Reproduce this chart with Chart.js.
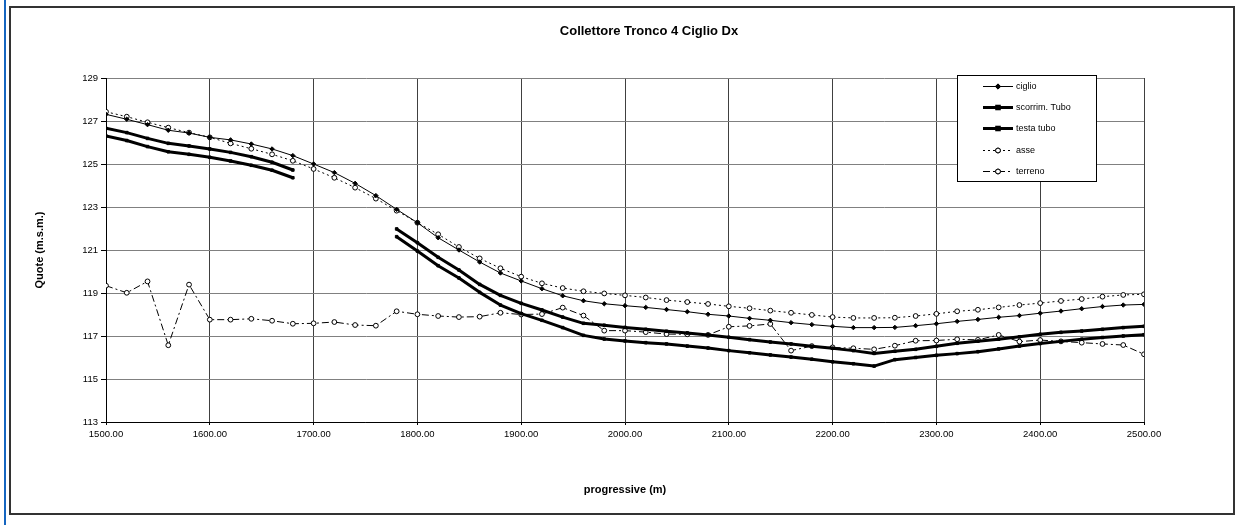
<!DOCTYPE html>
<html lang="it">
<head>
<meta charset="utf-8">
<title>Collettore Tronco 4 Ciglio Dx</title>
<script src="https://cdn.jsdelivr.net/npm/chart.js@4.4.1/dist/chart.umd.min.js"></script>
<style>
  html, body { margin: 0; padding: 0; background: #fff; }
  canvas { display: block; }
</style>
</head>
<body>
<canvas id="profilo" width="1248" height="525"></canvas>
<script>
// Progressive distances along the sewer (m)
const progressive = [
  1500, 1520, 1540, 1560, 1580, 1600, 1620, 1640, 1660, 1680,
  1700, 1720, 1740, 1760, 1780, 1800, 1820, 1840, 1860, 1880,
  1900, 1920, 1940, 1960, 1980, 2000, 2020, 2040, 2060, 2080,
  2100, 2120, 2140, 2160, 2180, 2200, 2220, 2240, 2260, 2280,
  2300, 2320, 2340, 2360, 2380, 2400, 2420, 2440, 2460, 2480,
  2500
];

// Elevations (m s.l.m.)
const ciglio = [
  127.31, 127.08, 126.83, 126.57, 126.44, 126.24, 126.12, 125.93, 125.70, 125.39,
  125.00, 124.60, 124.10, 123.53, 122.89, 122.27, 121.57, 121.00, 120.44, 119.93,
  119.56, 119.20, 118.87, 118.64, 118.50, 118.41, 118.33, 118.23, 118.13, 118.01,
  117.93, 117.82, 117.73, 117.62, 117.53, 117.45, 117.39, 117.39, 117.40, 117.48,
  117.57, 117.68, 117.77, 117.87, 117.95, 118.06, 118.16, 118.27, 118.37, 118.44,
  118.47
];

const scorrimTubo = [
  126.30, 126.09, 125.81, 125.57, 125.45, 125.31, 125.14, 124.94, 124.71, 124.36,
  null, null, null, null, 121.62, 120.95, 120.27, 119.70, 119.03, 118.44,
  118.04, 117.73, 117.39, 117.03, 116.86, 116.77, 116.69, 116.63, 116.53, 116.44,
  116.32, 116.22, 116.12, 116.02, 115.92, 115.80, 115.71, 115.60, 115.90, 116.00,
  116.10, 116.18, 116.27, 116.40, 116.53, 116.65, 116.75, 116.85, 116.93, 117.00,
  117.06
];

const testaTubo = [
  126.66, 126.46, 126.19, 125.96, 125.84, 125.70, 125.54, 125.34, 125.08, 124.72,
  null, null, null, null, 121.98, 121.34, 120.66, 120.07, 119.40, 118.89,
  118.52, 118.21, 117.88, 117.59, 117.50, 117.40, 117.31, 117.22, 117.14, 117.05,
  116.94, 116.83, 116.72, 116.63, 116.52, 116.43, 116.32, 116.19, 116.29, 116.38,
  116.52, 116.66, 116.76, 116.85, 116.96, 117.08, 117.17, 117.23, 117.31, 117.39,
  117.45
];

const asse = [
  127.43, 127.20, 126.94, 126.69, 126.46, 126.24, 125.96, 125.71, 125.45, 125.15,
  124.77, 124.36, 123.90, 123.39, 122.83, 122.27, 121.73, 121.14, 120.61, 120.15,
  119.76, 119.45, 119.23, 119.08, 118.98, 118.89, 118.79, 118.67, 118.58, 118.49,
  118.38, 118.29, 118.18, 118.08, 117.98, 117.88, 117.84, 117.84, 117.85, 117.93,
  118.03, 118.15, 118.22, 118.33, 118.44, 118.53, 118.63, 118.72, 118.83, 118.91,
  118.94
];

const terreno = [
  119.34, 119.01, 119.54, 116.57, 119.39, 117.76, 117.76, 117.80, 117.71, 117.57,
  117.59, 117.65, 117.51, 117.48, 118.15, 118.01, 117.93, 117.88, 117.90, 118.08,
  118.00, 118.02, 118.32, 117.95, 117.25, 117.25, 117.18, 117.09, 117.08, 117.05,
  117.43, 117.47, 117.56, 116.32, 116.53, 116.47, 116.43, 116.38, 116.55, 116.78,
  116.79, 116.85, 116.82, 117.05, 116.74, 116.81, 116.75, 116.69, 116.63, 116.58,
  116.15
];

const titolo = 'Collettore Tronco 4 Ciglio Dx';
const titoloX = 'progressive (m)';
const titoloY = 'Quote (m.s.m.)';
const yTicks = { min: 113, max: 129, step: 2 };
const xTicks = { min: 1500, max: 2500, step: 100 };

const FONT = '"Liberation Sans", Arial, Helvetica, sans-serif';

const punti = serie => progressive.map((x, i) => ({ x: x, y: serie[i] }));

const datasets = [
  {
    label: 'ciglio', data: punti(ciglio),
    borderColor: '#000', borderWidth: 1,
    pointStyle: 'rectRot', pointRadius: 2.2, pointBackgroundColor: '#000', pointBorderColor: '#000', pointBorderWidth: 1
  },
  {
    label: 'scorrim. Tubo', data: punti(scorrimTubo),
    borderColor: '#000', borderWidth: 3,
    pointStyle: 'rect', pointRadius: 1.8, pointBackgroundColor: '#000', pointBorderColor: '#000', pointBorderWidth: 1
  },
  {
    label: 'testa tubo', data: punti(testaTubo),
    borderColor: '#000', borderWidth: 3,
    pointStyle: 'rect', pointRadius: 1.8, pointBackgroundColor: '#000', pointBorderColor: '#000', pointBorderWidth: 1
  },
  {
    label: 'asse', data: punti(asse),
    borderColor: '#000', borderWidth: 1, borderDash: [2, 3],
    pointStyle: 'circle', pointRadius: 2.4, pointBackgroundColor: '#fff', pointBorderColor: '#000', pointBorderWidth: 1
  },
  {
    label: 'terreno', data: punti(terreno),
    borderColor: '#000', borderWidth: 1, borderDash: [7, 3, 2, 3],
    pointStyle: 'circle', pointRadius: 2.4, pointBackgroundColor: '#fff', pointBorderColor: '#000', pointBorderWidth: 1
  }
];

// Sheet frame, title and the boxed legend inside the plot
const foglio = {
  id: 'foglio',
  beforeDraw(chart) {
    const ctx = chart.ctx;
    ctx.save();
    ctx.fillStyle = '#fff';
    ctx.fillRect(0, 0, chart.width, chart.height);
    // blue margin line on the left edge
    ctx.fillStyle = '#1565c0';
    ctx.fillRect(4, 0, 2, chart.height);
    // outer frame
    ctx.strokeStyle = '#333';
    ctx.lineWidth = 2;
    ctx.strokeRect(10, 7, 1224, 507);
    // title
    ctx.fillStyle = '#000';
    ctx.font = 'bold 13px ' + FONT;
    ctx.textAlign = 'center';
    ctx.textBaseline = 'middle';
    ctx.fillText(titolo, 649, 31);
    ctx.restore();
  },
  afterDraw(chart) {
    const ctx = chart.ctx;
    const bx = 957, by = 75, bw = 139, bh = 106;
    ctx.save();
    ctx.fillStyle = '#fff';
    ctx.fillRect(bx, by, bw, bh);
    ctx.strokeStyle = '#000';
    ctx.lineWidth = 1;
    ctx.strokeRect(bx + 0.5, by + 0.5, bw, bh);
    ctx.font = '9px ' + FONT;
    ctx.textAlign = 'left';
    ctx.textBaseline = 'middle';
    chart.data.datasets.forEach((ds, i) => {
      const y = Math.round(by + 11 + i * 21.2) + 0.5;
      const x0 = 983, x1 = 1013, xm = 998;
      ctx.strokeStyle = ds.borderColor;
      ctx.lineWidth = ds.borderWidth;
      ctx.setLineDash(ds.borderDash || []);
      ctx.beginPath();
      ctx.moveTo(x0, y);
      ctx.lineTo(x1, y);
      ctx.stroke();
      ctx.setLineDash([]);
      Chart.helpers.drawPoint(ctx, {
        pointStyle: ds.pointStyle, radius: ds.pointRadius, borderWidth: ds.pointBorderWidth, rotation: 0
      }, xm, y);
      ctx.fillStyle = ds.pointBackgroundColor;
      ctx.strokeStyle = ds.pointBorderColor;
      ctx.lineWidth = ds.pointBorderWidth;
      ctx.beginPath();
      if (ds.pointStyle === 'circle') {
        ctx.arc(xm, y, ds.pointRadius, 0, Math.PI * 2);
      } else if (ds.pointStyle === 'rect') {
        ctx.rect(xm - ds.pointRadius, y - ds.pointRadius, ds.pointRadius * 2, ds.pointRadius * 2);
      } else {
        const r = ds.pointRadius * 1.2;
        ctx.moveTo(xm, y - r); ctx.lineTo(xm + r, y); ctx.lineTo(xm, y + r); ctx.lineTo(xm - r, y); ctx.closePath();
      }
      ctx.fill();
      ctx.stroke();
      ctx.fillStyle = '#000';
      ctx.fillText(ds.label, 1016, y);
    });
    ctx.restore();
  }
};

new Chart(document.getElementById('profilo'), {
  type: 'line',
  data: { datasets: datasets },
  options: {
    responsive: false,
    animation: false,
    devicePixelRatio: 1,
    spanGaps: false,
    layout: { padding: { left: 20, top: 78, right: 104, bottom: 20 } },
    elements: { line: { tension: 0, borderJoinStyle: 'round' } },
    plugins: {
      legend: { display: false },
      title: { display: false },
      tooltip: { enabled: false }
    },
    scales: {
      x: {
        type: 'linear',
        min: xTicks.min, max: xTicks.max,
        afterFit(scale) { scale.height = 83; },
        ticks: {
          stepSize: xTicks.step, maxRotation: 0, padding: 4,
          color: '#000', font: { family: FONT, size: 9.5 },
          callback: v => Number(v).toFixed(2)
        },
        grid: { color: '#404040', lineWidth: 1, tickLength: 3, tickColor: '#000' },
        border: { display: true, color: '#000', width: 1 },
        title: {
          display: true, text: titoloX, color: '#000',
          font: { family: FONT, size: 11, weight: 'bold' },
          padding: { top: 0, bottom: 8 }
        }
      },
      y: {
        type: 'linear',
        min: yTicks.min, max: yTicks.max,
        afterFit(scale) { scale.width = 86; },
        ticks: {
          stepSize: yTicks.step, padding: 3,
          color: '#000', font: { family: FONT, size: 9.5 }
        },
        grid: { color: '#808080', lineWidth: 1, tickLength: 5, tickColor: '#000' },
        border: { display: true, color: '#000', width: 1 },
        title: {
          display: true, text: titoloY, color: '#000',
          font: { family: FONT, size: 11, weight: 'bold' },
          padding: { top: 13, bottom: 0 }
        }
      }
    }
  },
  plugins: [foglio]
});
</script>
</body>
</html>
